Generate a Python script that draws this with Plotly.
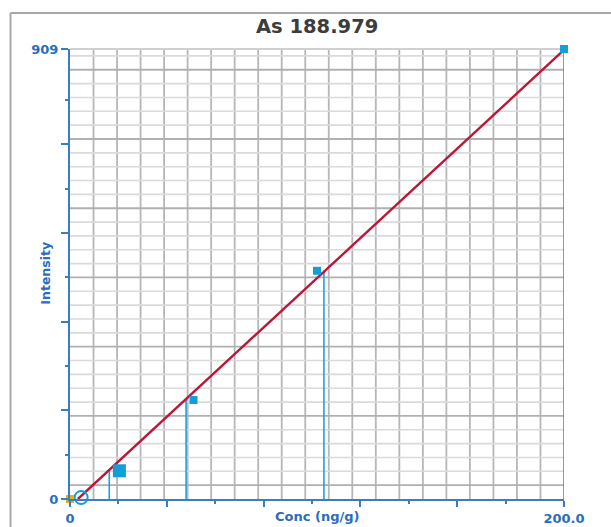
import plotly.graph_objects as go

# ---- data ----
std_conc = [20.0, 50.0, 100.0, 200.0]          # standards (ng/g)
std_int = [57.0, 200.0, 461.0, 909.0]          # measured intensity
std_size = [13, 8, 8, 8]
calc_conc = [15.9, 47.0, 102.8, 200.0]         # concentration read back from the fit (drop lines)
fit_conc = [3.2, 200.0]                        # calibration line end points
fit_int = [0.0, 907.0]
blank_conc = [4.5]
blank_int = [3.0]
origin_conc = [0.0]
origin_int = [0.0]

x_range = [0, 200]
y_range = [0, 909]
x_major = [0, 39.19, 78.38, 117.57, 156.76, 200]
x_major_text = ["0", "", "", "", "", "200.0"]
x_minor = [19.6, 58.8, 98.0, 137.2, 176.4]
y_major = [0, 179.1, 358.2, 537.3, 716.4, 909]
y_major_text = ["0", "", "", "", "", "909"]
y_minor = [89.55, 268.6, 447.8, 626.9, 805.9]
n_vgrid = 21
n_hgrid = 32.5

BLUE_AX = "#3a7cc8"
BLUE_TXT = "#2a6cbd"
CYAN = "#1aa2de"
SQ = "#119ed9"
RED = "#bd1538"

fig = go.Figure()

# drop lines
dx, dy = [], []
for c, v in zip(calc_conc, std_int):
    dx += [c, c, None]
    dy += [0, v, None]
fig.add_trace(go.Scatter(x=dx, y=dy, mode="lines", line=dict(color=CYAN, width=1.6),
                         hoverinfo="skip", showlegend=False, cliponaxis=False))
# calibration line
fig.add_trace(go.Scatter(x=fit_conc, y=fit_int, mode="lines", line=dict(color=RED, width=2.4),
                         showlegend=False))
# standards
fig.add_trace(go.Scatter(x=std_conc, y=std_int, mode="markers",
                         marker=dict(symbol="square", size=std_size, color=SQ, opacity=1,
                                     line=dict(width=0)),
                         showlegend=False, cliponaxis=False))
# blank
fig.add_trace(go.Scatter(x=blank_conc, y=blank_int, mode="markers",
                         marker=dict(symbol="circle-open", size=13, color=SQ, line=dict(width=2, color=SQ)),
                         showlegend=False, cliponaxis=False))
# origin point
fig.add_trace(go.Scatter(x=origin_conc, y=origin_int, mode="markers",
                         marker=dict(symbol="square", size=8, color="#e6b400"),
                         showlegend=False, cliponaxis=False))

shapes = []
# vertical grid
for k in range(1, n_vgrid):
    xv = x_range[1] * k / n_vgrid
    shapes.append(dict(type="line", xref="x", yref="paper", x0=xv, x1=xv, y0=0, y1=1,
                       line=dict(color="#b6b6b6", width=1.8), layer="below"))
# horizontal grid
k = 1
while k < n_hgrid:
    yv = y_range[1] * k / n_hgrid
    dark = (k - 1) % 5 == 0
    shapes.append(dict(type="line", xref="paper", yref="y", x0=0, x1=1, y0=yv, y1=yv,
                       line=dict(color="#b0b0b0" if dark else "#dadada", width=1.8 if dark else 1.6),
                       layer="below"))
    k += 1
shapes.append(dict(type="line", xref="paper", yref="paper", x0=0, x1=1, y0=1, y1=1,
                   line=dict(color="#d0d0d0", width=1.8), layer="below"))
# outer frame (top and left edges only are inside the view)
shapes.append(dict(type="line", xref="paper", yref="paper", x0=-0.1204, x1=1.2, y0=1.08, y1=1.08,
                   line=dict(color="#a8a8a8", width=2), layer="below"))
shapes.append(dict(type="line", xref="paper", yref="paper", x0=-0.1204, x1=-0.1204, y0=-0.2, y1=1.08,
                   line=dict(color="#a8a8a8", width=2), layer="below"))

fig.update_layout(
    template="none",
    width=611, height=527,
    margin=dict(l=70, r=47, t=49, b=28, autoexpand=False),
    paper_bgcolor="white", plot_bgcolor="white",
    shapes=shapes,
    showlegend=False,
    hovermode=False,
    annotations=[
        dict(text="As 188.979", xref="paper", yref="paper", x=0.499, y=1.051,
             xanchor="center", yanchor="middle", showarrow=False,
             font=dict(family="DejaVu Sans", size=19.5, color="#3c3c3c", weight="bold")),
        dict(text="Conc (ng/g)", xref="paper", yref="paper", x=0.5, y=-0.038,
             xanchor="center", yanchor="middle", showarrow=False,
             font=dict(family="DejaVu Sans", size=13, color=BLUE_TXT, weight="bold")),
        dict(text="Intensity", xref="paper", yref="paper", x=-0.0486, y=0.503, textangle=-90,
             xanchor="center", yanchor="middle", showarrow=False,
             font=dict(family="DejaVu Sans", size=12.5, color=BLUE_TXT, weight="bold")),
    ],
)

fig.update_xaxes(range=x_range, showgrid=False, zeroline=False, automargin=False,
                 showline=True, linecolor=BLUE_AX, linewidth=2,
                 tickmode="array", tickvals=x_major, ticktext=x_major_text,
                 ticks="outside", ticklen=6, tickwidth=2, tickcolor=BLUE_AX,
                 tickfont=dict(family="DejaVu Sans", size=13, color=BLUE_TXT, weight="bold"),
                 minor=dict(tickvals=x_minor, ticks="outside", ticklen=3, tickwidth=2,
                            tickcolor=BLUE_AX, showgrid=False))
fig.update_yaxes(range=y_range, showgrid=False, zeroline=False, automargin=False,
                 showline=True, linecolor=BLUE_AX, linewidth=2,
                 tickmode="array", tickvals=y_major, ticktext=y_major_text,
                 ticks="outside", ticklen=7, tickwidth=2, tickcolor=BLUE_AX,
                 tickfont=dict(family="DejaVu Sans", size=13, color=BLUE_TXT, weight="bold"),
                 minor=dict(tickvals=y_minor, ticks="outside", ticklen=3, tickwidth=2,
                            tickcolor=BLUE_AX, showgrid=False))

fig.write_html("out.html",
               config={"displayModeBar": False, "staticPlot": True},
               post_script="document.body.style.margin='0';document.body.style.overflow='hidden';")
